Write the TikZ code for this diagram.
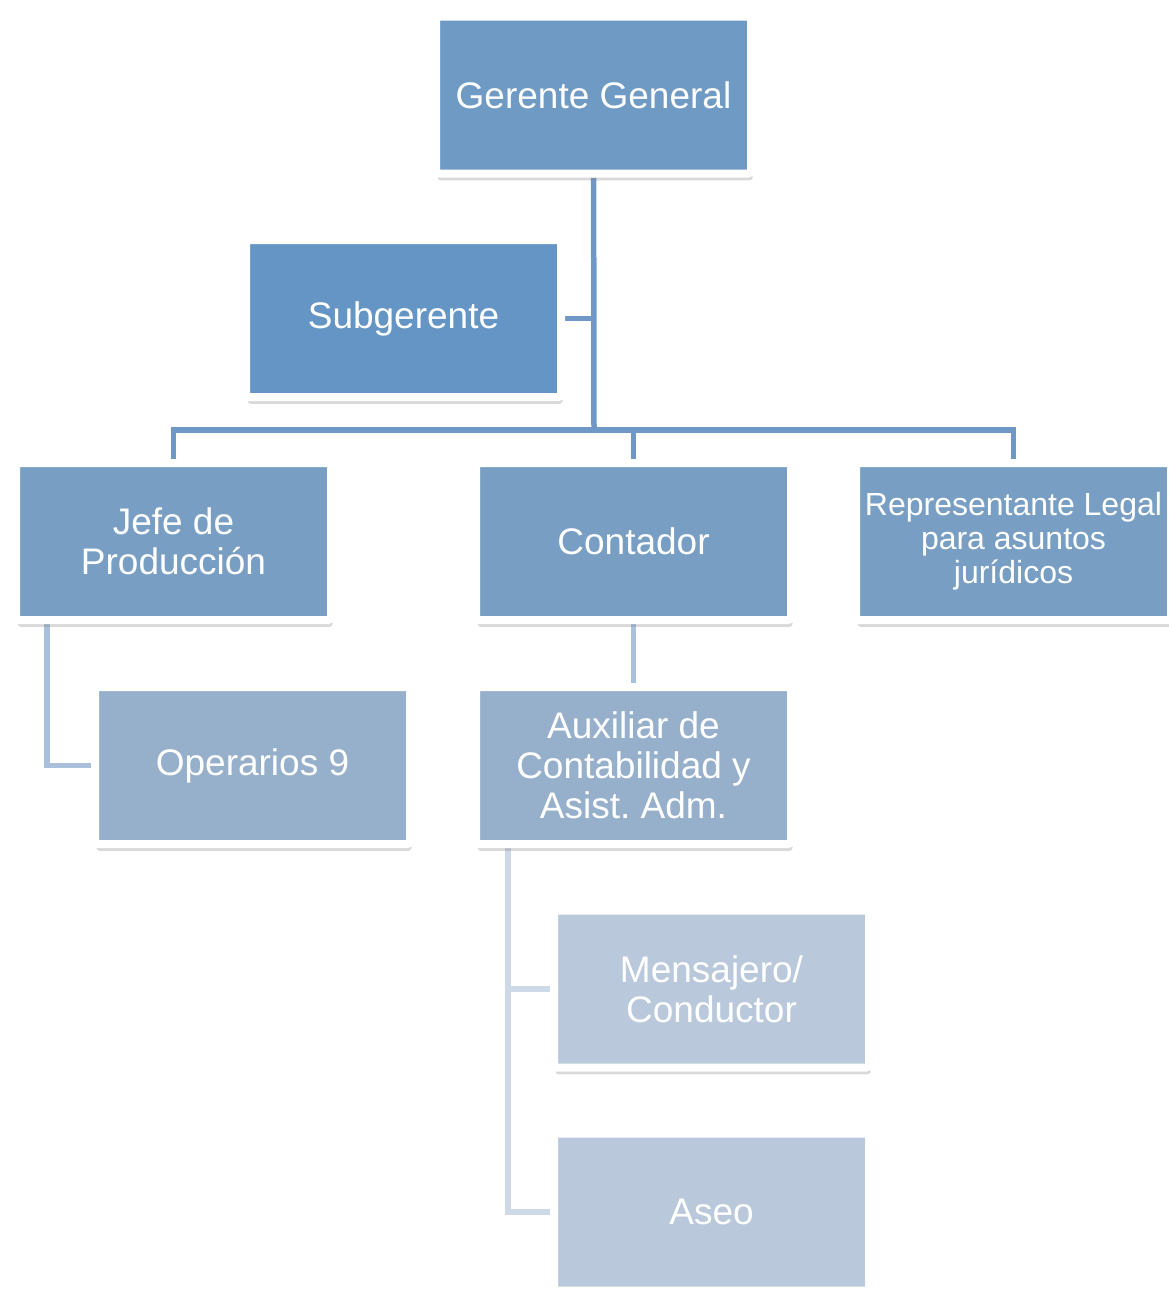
\documentclass[tikz,border=0pt]{standalone}
\usepackage{fontspec}
\setmainfont{Liberation Sans}
\usetikzlibrary{shadows,backgrounds}

\definecolor{lvlA}{RGB}{110,154,196}
\definecolor{lvlB}{RGB}{100,149,197}
\definecolor{lvlC}{RGB}{120,159,195}
\definecolor{lvlD}{RGB}{150,176,204}
\definecolor{lvlE}{RGB}{185,201,219}
\definecolor{lineA}{RGB}{112,152,198}
\definecolor{lineB}{RGB}{170,191,218}
\definecolor{lineC}{RGB}{206,217,231}

\begin{document}
\frenchspacing
\begin{tikzpicture}[
  x=0.5pt, y=-0.5pt,
  box/.style = {draw=white, line width=4pt, rounded corners=1.5pt,
                minimum width=157.5pt, minimum height=78.5pt, inner sep=0pt,
                align=center, text=white, font=\fontsize{18.5}{20}\selectfont,
                drop shadow={opacity=0.3, shadow xshift=0.8pt, shadow yshift=-3.4pt}},
  link/.style = {line width=2.75pt}
]
  \useasboundingbox (0,0) rectangle (1168,1290);

  % Top
  \node[box, fill=lvlA] (gerente) at (593.5,95) {Gerente General};
  \node[box, fill=lvlB] (subgerente) at (403.5,318.5) {Subgerente};

  % Second level
  \node[box, fill=lvlC] (jefe)     at (173.5,541.5)  {Jefe de\\Producción};
  \node[box, fill=lvlC] (contador) at (633.5,541.5)  {Contador};
  \node[box, fill=lvlC, font=\fontsize{16}{17}\selectfont] (repre) at (1013.5,541.5)
    {Representante Legal\\para asuntos\\jurídicos};

  % Third level
  \node[box, fill=lvlD] (operarios) at (252.5,765.5) {Operarios 9};
  \node[box, fill=lvlD] (auxiliar)  at (633.5,765.5) {Auxiliar de\\Contabilidad y\\Asist. Adm.};

  % Fourth level
  \node[box, fill=lvlE] (mensajero) at (711.5,989)  {Mensajero/\\Conductor};
  \node[box, fill=lvlE] (aseo)      at (711.5,1212) {Aseo};

  \coordinate (hub) at (594,430);

  % Connections
  \begin{scope}[on background layer]
    \draw[link, lineA] (gerente) -- (hub);
    \draw[link, lineA] (subgerente.east) -- (subgerente.east -| hub);
    \draw[link, lineA] (hub) -| (jefe.north);
    \draw[link, lineA] (hub) -| (contador.north);
    \draw[link, lineA] (hub) -| (repre.north);

    \draw[link, lineB] (jefe.south west) ++(35,0) |- (operarios.west);
    \draw[link, lineA!60!white] (contador) -- (auxiliar);

    \draw[link, lineC] (auxiliar.south west) ++(36,0) |- (mensajero.west);
    \draw[link, lineC] (auxiliar.south west) ++(36,0) |- (aseo.west);
  \end{scope}

\end{tikzpicture}
\end{document}
